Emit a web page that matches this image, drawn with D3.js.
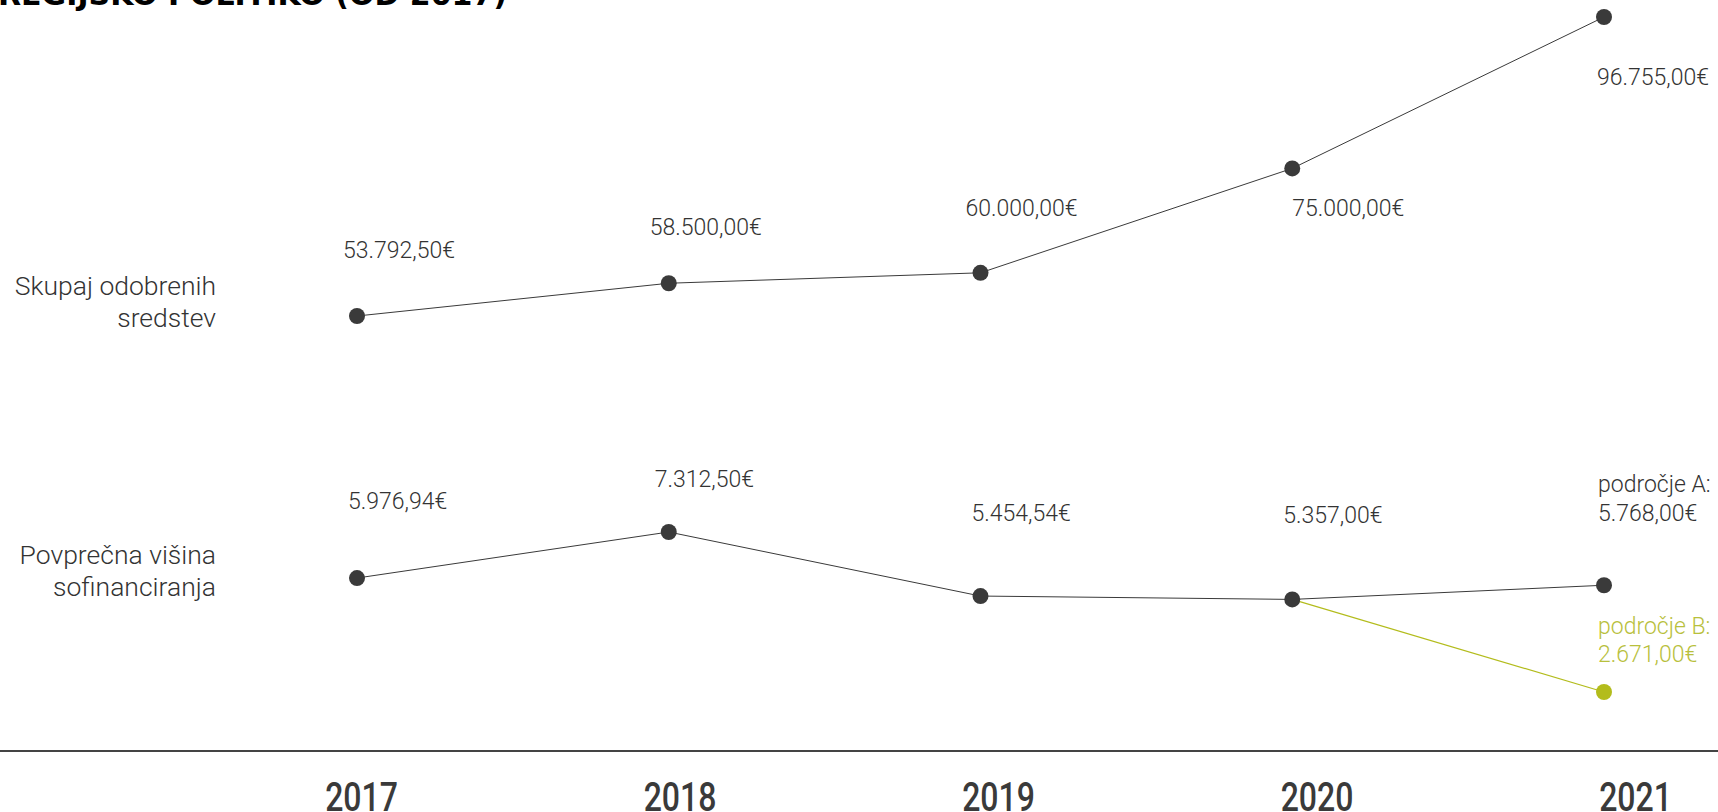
<!DOCTYPE html>
<html lang="sl">
<head>
  <meta charset="UTF-8">
  <title>Odobrena sredstva</title>
  <script src="https://d3js.org/d3.v7.min.js"></script>
  <style>
    body { margin: 0; background: #fff; }
    #chart { width: 1718px; height: 812px; overflow: hidden; }
    .val { font-family: Roboto, "Noto Sans", sans-serif; font-weight: 300; font-size: 23px; fill: #333; }
    .row { font-family: Roboto, "Noto Sans", sans-serif; font-weight: 300; font-size: 26.5px; fill: #333; }
    .year text { font-family: Roboto, "Noto Sans", sans-serif; font-weight: 500; font-size: 40px; fill: #3a3a3a; }
  </style>
</head>
<body>
  <div id="chart"></div>
  <script>
    // data
    const years = [2017, 2018, 2019, 2020, 2021];
    const totalFunds = [53792.5, 58500, 60000, 75000, 96755];
    const avgA = [5976.94, 7312.5, 5454.54, 5357, 5768];
    const areaBYears = [2020, 2021];
    const areaB = [5357, 2671];
    const rowLabels = [["Skupaj odobrenih", "sredstev"], ["Povprečna višina", "sofinanciranja"]];
    const title = "REGIJSKO POLITIKO (OD 2017)";

    // label placement relative to each dot [dx, dy]
    const topOffsets = [[-14, -58], [-19, -48], [-15, -57], [0, 48], [-7, 68]];
    const botOffsets = [[-9, -69], [-14, -45], [-9, -75], [-9, -76]];

    const width = 1718, height = 812;
    const dark = "#3a3a3a", green = "#b3bc1c", greenText = "#b8c03c";

    const loc = d3.formatLocale({decimal: ",", thousands: ".", grouping: [3], currency: ["", "€"]});
    const fmt = v => loc.format(",.2f")(v) + "€";

    const svg = d3.select("#chart").append("svg")
      .attr("width", width).attr("height", height);

    // title, mostly cut off at the top
    svg.append("text")
      .attr("x", -2).attr("y", 5)
      .attr("font-family", "'DejaVu Sans', sans-serif")
      .attr("font-weight", "bold")
      .attr("font-size", 30)
      .attr("fill", "#000")
      .text(title);

    const x = d3.scalePoint().domain(years).range([357, 1604]);
    const yTop = d3.scaleLinear().domain([d3.min(totalFunds), d3.max(totalFunds)]).range([316, 17]);
    const yBot = d3.scaleLinear().domain([d3.min(areaB), d3.max(avgA)]).range([692, 532]);

    // row labels
    const rowY = [295, 564];
    rowLabels.forEach((lines, i) => {
      const t = svg.append("text").attr("class", "row").attr("text-anchor", "end");
      lines.forEach((l, j) => t.append("tspan").attr("x", 216).attr("y", rowY[i] + j * 32).text(l));
    });

    // top series
    const lineTop = d3.line().x((d, i) => x(years[i])).y(d => yTop(d));
    svg.append("path").attr("d", lineTop(totalFunds))
      .attr("fill", "none").attr("stroke", dark).attr("stroke-width", 1);

    // bottom series, area B
    const lineB = d3.line().x((d, i) => x(areaBYears[i])).y(d => yBot(d));
    svg.append("path").attr("d", lineB(areaB))
      .attr("fill", "none").attr("stroke", green).attr("stroke-width", 1.2);

    const lineA = d3.line().x((d, i) => x(years[i])).y(d => yBot(d));
    svg.append("path").attr("d", lineA(avgA))
      .attr("fill", "none").attr("stroke", dark).attr("stroke-width", 1);

    svg.selectAll(".dotTop").data(totalFunds).join("circle")
      .attr("cx", (d, i) => x(years[i])).attr("cy", d => yTop(d))
      .attr("r", 8).attr("fill", dark);

    svg.selectAll(".dotA").data(avgA).join("circle")
      .attr("cx", (d, i) => x(years[i])).attr("cy", d => yBot(d))
      .attr("r", 8).attr("fill", dark);

    svg.append("circle")
      .attr("cx", x(areaBYears[1])).attr("cy", yBot(areaB[1]))
      .attr("r", 8).attr("fill", green);

    // value labels
    totalFunds.forEach((v, i) => {
      svg.append("text").attr("class", "val")
        .attr("x", x(years[i]) + topOffsets[i][0])
        .attr("y", yTop(v) + topOffsets[i][1])
        .text(fmt(v));
    });
    avgA.slice(0, 4).forEach((v, i) => {
      svg.append("text").attr("class", "val")
        .attr("x", x(years[i]) + botOffsets[i][0])
        .attr("y", yBot(v) + botOffsets[i][1])
        .text(fmt(v));
    });

    const xa = x(2021) - 6;
    const tA = svg.append("text").attr("class", "val");
    tA.append("tspan").attr("x", xa).attr("y", yBot(avgA[4]) - 93).text("področje A:");
    tA.append("tspan").attr("x", xa).attr("y", yBot(avgA[4]) - 64).text(fmt(avgA[4]));

    const tB = svg.append("text").attr("class", "val").style("fill", greenText);
    tB.append("tspan").attr("x", xa).attr("y", yBot(areaB[1]) - 58).text("področje B:");
    tB.append("tspan").attr("x", xa).attr("y", yBot(areaB[1]) - 30).text(fmt(areaB[1]));

    // baseline
    svg.append("line")
      .attr("x1", 0).attr("x2", width).attr("y1", 751).attr("y2", 751)
      .attr("stroke", "#444").attr("stroke-width", 2);

    // year axis
    const xYear = d3.scalePoint().domain(years).range([361, 1635]);
    svg.append("g").attr("class", "year")
      .attr("transform", "translate(0,783)")
      .call(d3.axisBottom(xYear).tickSize(0).tickPadding(0).tickFormat(d3.format("d")))
      .call(g => g.select(".domain").remove())
      .call(g => g.selectAll("text").attr("transform", "scale(0.8,1)"));
  </script>
</body>
</html>
